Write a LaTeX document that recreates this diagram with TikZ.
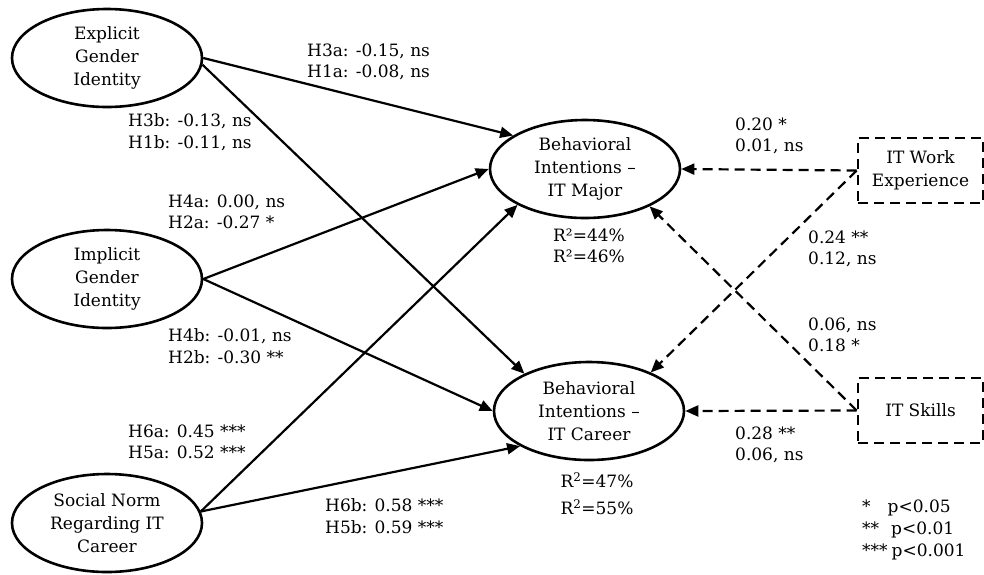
\documentclass[tikz,border=0pt]{standalone}
\usepackage{fontspec}
\setmainfont{DejaVu Serif}
\usepackage{tikz}
\usetikzlibrary{shapes.geometric,arrows.meta}
\newcommand{\ellfont}{\fontsize{17}{23}\selectfont}
\newcommand{\estfont}{\fontsize{17}{21.5}\selectfont}
\tikzset{
  construct/.style={draw,ellipse,line width=2.6pt,minimum width=190pt,minimum height=98pt,
    inner sep=0pt,align=center,font=\ellfont},
  control/.style={draw,dash pattern=on 10pt off 6pt,line width=2.6pt,minimum width=125pt,
    minimum height=65pt,inner sep=0pt,align=center,font=\ellfont},
  effect/.style={-{Triangle[length=13pt,width=11pt]},line width=2.2pt},
  ceffect/.style={effect,dash pattern=on 10pt off 6pt},
  est/.style={anchor=west,align=left,inner sep=0pt,font=\estfont}
}

\begin{document}
\begin{tikzpicture}[x=1pt,y=-1pt]
  \useasboundingbox (0,0) rectangle (984,574);

  % constructs
  \node[construct] (expl) at (107,58) {Explicit\\Gender\\Identity};
  \node[construct] (impl) at (107,279) {Implicit\\Gender\\Identity};
  \node[construct] (norm) at (107,523) {Social Norm\\Regarding IT\\Career};
  \node[construct] (major) at (585,169) {Behavioral\\Intentions --\\IT Major};
  \node[construct] (career) at (589,411) {Behavioral\\Intentions --\\IT Career};

  % controls
  \node[control] (work) at (920.5,170.5) {IT Work\\Experience};
  \node[control] (skills) at (920.5,410.5) {IT Skills};

  % hypothesised paths
  \draw[effect] (expl.east) -- (major.155);
  \draw[effect] (expl.-4) -- (career.150);
  \draw[effect] (impl.east) -- (major.west);
  \draw[effect] (impl.east) -- (career.west);
  \draw[effect] (norm.7) -- (major.208);
  \draw[effect] (norm.7) -- (career.207);

  % control paths
  \draw[ceffect] (work.west) -- (major.east);
  \draw[ceffect] (work.west) -- (career.32);
  \draw[ceffect] (skills.west) -- (major.-30);
  \draw[ceffect] (skills.west) -- (career.east);

  % estimates
  \node[est] (e31) at (307,62) {H3a: -0.15, ns\\H1a: -0.08, ns};
  \node[est] (e32) at (128,132) {H3b: -0.13, ns\\H1b: -0.11, ns};
  \node[est] (e41) at (168,212) {H4a: 0.00, ns\\H2a: -0.27 *};
  \node[est] (e42) at (168,346) {H4b: -0.01, ns\\H2b: -0.30 **};
  \node[est] (e61) at (128,442) {H6a: 0.45 ***\\H5a: 0.52 ***};
  \node[est] (e62) at (325,516) {H6b: 0.58 ***\\H5b: 0.59 ***};
  \node[est] (w1) at (735,136) {0.20 *\\0.01, ns};
  \node[est] (w2) at (808,249) {0.24 **\\0.12, ns};
  \node[est] (s1) at (808,335) {0.06, ns\\0.18 *};
  \node[est] (s2) at (735,445) {0.28 **\\0.06, ns};

  % variance explained
  \node[est,anchor=center,align=center] (r1) at (589,246) {R²=44\%\\R²=46\%};
  \node[est,anchor=center,align=center,font=\fontsize{17}{27}\selectfont] (r2) at (597,494)
    {R\textsuperscript{2}=47\%\\R\textsuperscript{2}=55\%};

  % legend
  \node[est,font=\fontsize{17}{22}\selectfont] (key) at (862,530)
    {*\hspace{17pt}p<0.05\\**\hspace{12pt}p<0.01\\***\hspace{4pt}p<0.001};
\end{tikzpicture}
\end{document}
